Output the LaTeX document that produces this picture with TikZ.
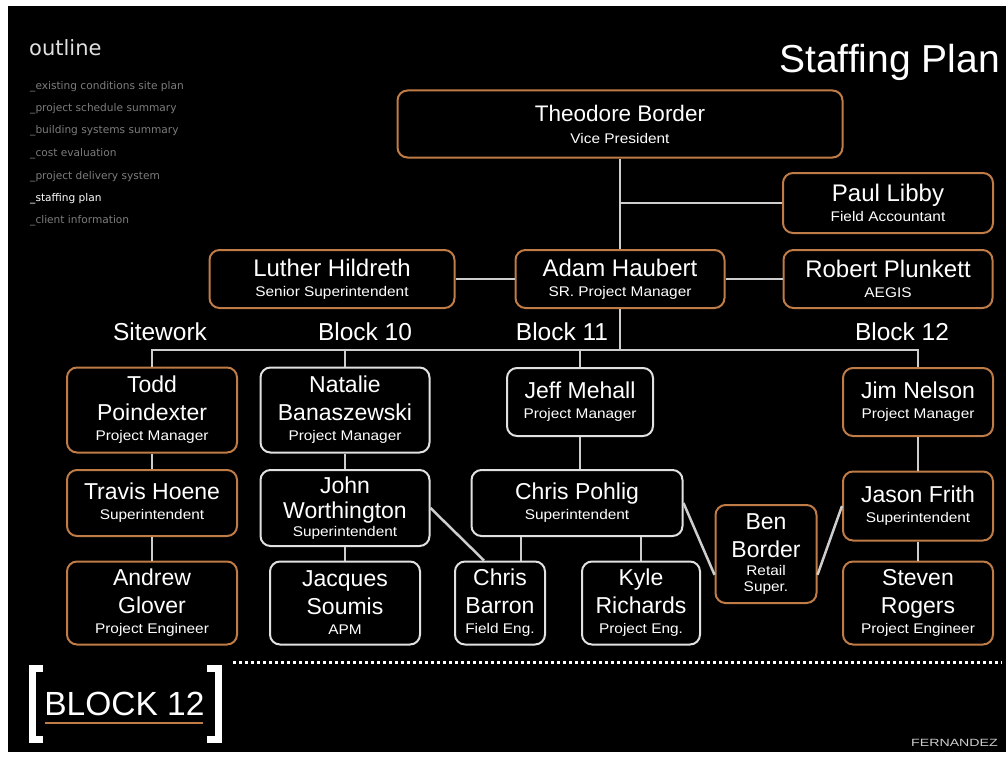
\documentclass[tikz,border=0pt]{standalone}
\usepackage{fontspec}
\setmainfont{Liberation Sans}
\newfontfamily\widefont[FakeStretch=1.1]{Liberation Sans}
\newfontfamily\xwide[FakeStretch=1.35]{Liberation Sans}
\newfontfamily\dvs{DejaVu Sans}
\usetikzlibrary{calc}
\definecolor{borange}{RGB}{192,124,70}
\definecolor{bwhite}{RGB}{225,225,225}
\definecolor{lgray}{RGB}{205,205,205}
\definecolor{ogray}{RGB}{125,125,125}
\newcommand{\nm}{\fontsize{23}{28}\selectfont}
\newcommand{\tn}{\fontsize{24}{30}\selectfont}
\newcommand{\rl}{\widefont\fontsize{14}{16}\selectfont}
\tikzset{
  pbox/.style={line width=2pt, rounded corners=10pt, fill=black, text=white, align=center, inner sep=0pt, font=\nm},
  obox/.style={pbox, draw=borange},
  wbox/.style={pbox, draw=bwhite},
  conn/.style={draw=lgray, line width=2.5pt},
  hdr/.style={text=white, font=\fontsize{24.5}{26}\selectfont, inner sep=0pt},
  oitem/.style={text=ogray, font=\dvs\fontsize{10.6}{11}\selectfont, anchor=base west, inner sep=0pt},
}
\begin{document}
\begin{tikzpicture}[x=1pt,y=-1pt]
\useasboundingbox (0,0) rectangle (1006,757);
\fill[white] (0,0) rectangle (1006,757);
\fill[black] (8,6) rectangle (1006,752);

% titles
\node[anchor=base west, text=white!88!black, font=\dvs\fontsize{21}{22}\selectfont, inner sep=0pt] (outline) at (29,56) {outline};
\node[anchor=base east, text=white, font=\fontsize{39}{40}\selectfont, inner sep=0pt] (title) at (1000,73) {Staffing Plan};
\node[oitem] (o1) at (30,90) {\_existing conditions site plan};
\node[oitem] (o2) at (30,112) {\_project schedule summary};
\node[oitem] (o3) at (30,134) {\_building systems summary};
\node[oitem] (o4) at (30,157) {\_cost evaluation};
\node[oitem] (o5) at (30,179) {\_project delivery system};
\node[oitem, text=white] (o6) at (30,201) {\_staffing plan};
\node[oitem] (o7) at (30,223) {\_client information};

% top tier
\node[obox, minimum width=445pt, minimum height=67pt, font=\tn] (theo) at (620,124) {\fontsize{22.5}{30}\selectfont Theodore Border\\[-8pt]{\rl Vice President}};
\node[obox, minimum width=210pt, minimum height=60pt, font=\tn] (paul) at (888,203) {Paul Libby\\[-10pt]{\rl Field Accountant}};
\node[obox, minimum width=245pt, minimum height=58pt, font=\tn] (luther) at (332,279) {Luther Hildreth\\[-10pt]{\rl Senior Superintendent}};
\node[obox, minimum width=209pt, minimum height=58pt, font=\tn] (adam) at (620,279) {Adam Haubert\\[-10pt]{\rl SR. Project Manager}};
\node[obox, minimum width=209pt, minimum height=58pt, font=\tn] (robert) at (888,279) {Robert Plunkett\\[-10pt]{\rl AEGIS}};

% headers
\node[hdr] (h1) at (160,332) {Sitework};
\node[hdr] (h2) at (365,332) {Block 10};
\node[hdr] (h3) at (562,332) {Block 11};
\node[hdr] (h4) at (902,332) {Block 12};

% row 1
\node[obox, minimum width=170pt, minimum height=85pt] (todd) at (152,410) {Todd\\Poindexter\\[-8pt]{\rl Project Manager}};
\node[wbox, minimum width=169pt, minimum height=85pt] (natalie) at (345,410) {Natalie\\Banaszewski\\[-8pt]{\rl Project Manager}};
\node[wbox, minimum width=146pt, minimum height=68pt] (jeff) at (580,402) {Jeff Mehall\\[-8pt]{\rl Project Manager}};
\node[obox, minimum width=150pt, minimum height=68pt] (jim) at (918,402) {Jim Nelson\\[-8pt]{\rl Project Manager}};

% row 2
\node[obox, minimum width=170pt, minimum height=66pt] (travis) at (152,503) {Travis Hoene\\[-8pt]{\rl Superintendent}};
\node[wbox, minimum width=169pt, minimum height=76pt] (john) at (345,508) {John\\[-3pt]Worthington\\[-10pt]{\rl Superintendent}};
\node[wbox, minimum width=211pt, minimum height=66pt] (pohlig) at (577,503) {Chris Pohlig\\[-8pt]{\rl Superintendent}};
\node[obox, minimum width=150pt, minimum height=69pt] (jason) at (918,506) {Jason Frith\\[-8pt]{\rl Superintendent}};
\node[obox, minimum width=101pt, minimum height=98pt] (ben) at (766,554) {Ben\\Border\\[-10pt]{\rl Retail}\\[-12pt]{\rl Super.}};

% row 3
\node[obox, minimum width=170pt, minimum height=83pt] (andrew) at (152,603) {Andrew\\Glover\\[-8pt]{\rl Project Engineer}};
\node[wbox, minimum width=150pt, minimum height=83pt] (jacques) at (345,603) {Jacques\\Soumis\\[-8pt]{\rl APM}};
\node[wbox, minimum width=90pt, minimum height=83pt] (barron) at (500,603) {Chris\\Barron\\[-8pt]{\rl Field Eng.}};
\node[wbox, minimum width=118pt, minimum height=83pt] (kyle) at (641,603) {Kyle\\Richards\\[-8pt]{\rl Project Eng.}};
\node[obox, minimum width=150pt, minimum height=83pt] (steven) at (918,603) {Steven\\Rogers\\[-8pt]{\rl Project Engineer}};

% connectors
\coordinate (busL) at (152,350);
\draw[conn] (theo.south) -- (adam.north);
\draw[conn] (paul.west) -- (paul.west -| theo.south);
\draw[conn] (luther.east) -- (adam.west);
\draw[conn] (adam.east) -- (robert.west);
\draw[conn] (adam.south) -- (adam.south |- busL);
\draw[conn] (todd.north) -- (todd.north |- busL) -- (jim.north |- busL) -- (jim.north);
\draw[conn] (natalie.north) -- (natalie.north |- busL);
\draw[conn] (jeff.north) -- (jeff.north |- busL);
\draw[conn] (todd.south) -- (travis.north);
\draw[conn] (travis.south) -- (andrew.north);
\draw[conn] (natalie.south) -- (john.north);
\draw[conn] (john.south) -- (jacques.north);
\draw[conn] (jeff.south) -- (jeff.south |- pohlig.north);
\draw[conn] (jim.south) -- (jason.north);
\draw[conn] (jason.south) -- (steven.north);
\coordinate (bt) at ($(barron.north)+(21,0)$);
\draw[conn] (bt) -- (bt |- pohlig.south);
\draw[conn] (kyle.north) -- (kyle.north |- pohlig.south);
\draw[conn] (john.east) -- ($(barron.north west)+(30,0)$);
\draw[conn] (pohlig.east) -- (ben.202);
\draw[conn] (jason.west) -- (ben.338);

% bottom
\coordinate (dotL) at (233,662);
\coordinate (dotR) at (1002,662);
\draw[white, line width=3pt, dash pattern=on 2.5pt off 3.5pt] (dotL) -- (dotR);
\draw[white, line width=7pt] (43,668) -- (32,668) -- (32,739) -- (43,739);
\draw[white, line width=7pt] (207,668) -- (218,668) -- (218,739) -- (207,739);
\node[anchor=base west, text=white, draw=white, line width=0.6pt, font=\fontsize{33.5}{36}\selectfont, inner sep=0pt, draw opacity=0] (blk) at (44,715) {BLOCK 12};
\draw[borange, line width=2.5pt] (45,723) -- (203,723);
\node[anchor=base east, text=lgray, font=\xwide\fontsize{10.5}{11}\selectfont, inner sep=0pt] (fern) at (998,746) {FERNANDEZ};
\end{tikzpicture}
\end{document}
